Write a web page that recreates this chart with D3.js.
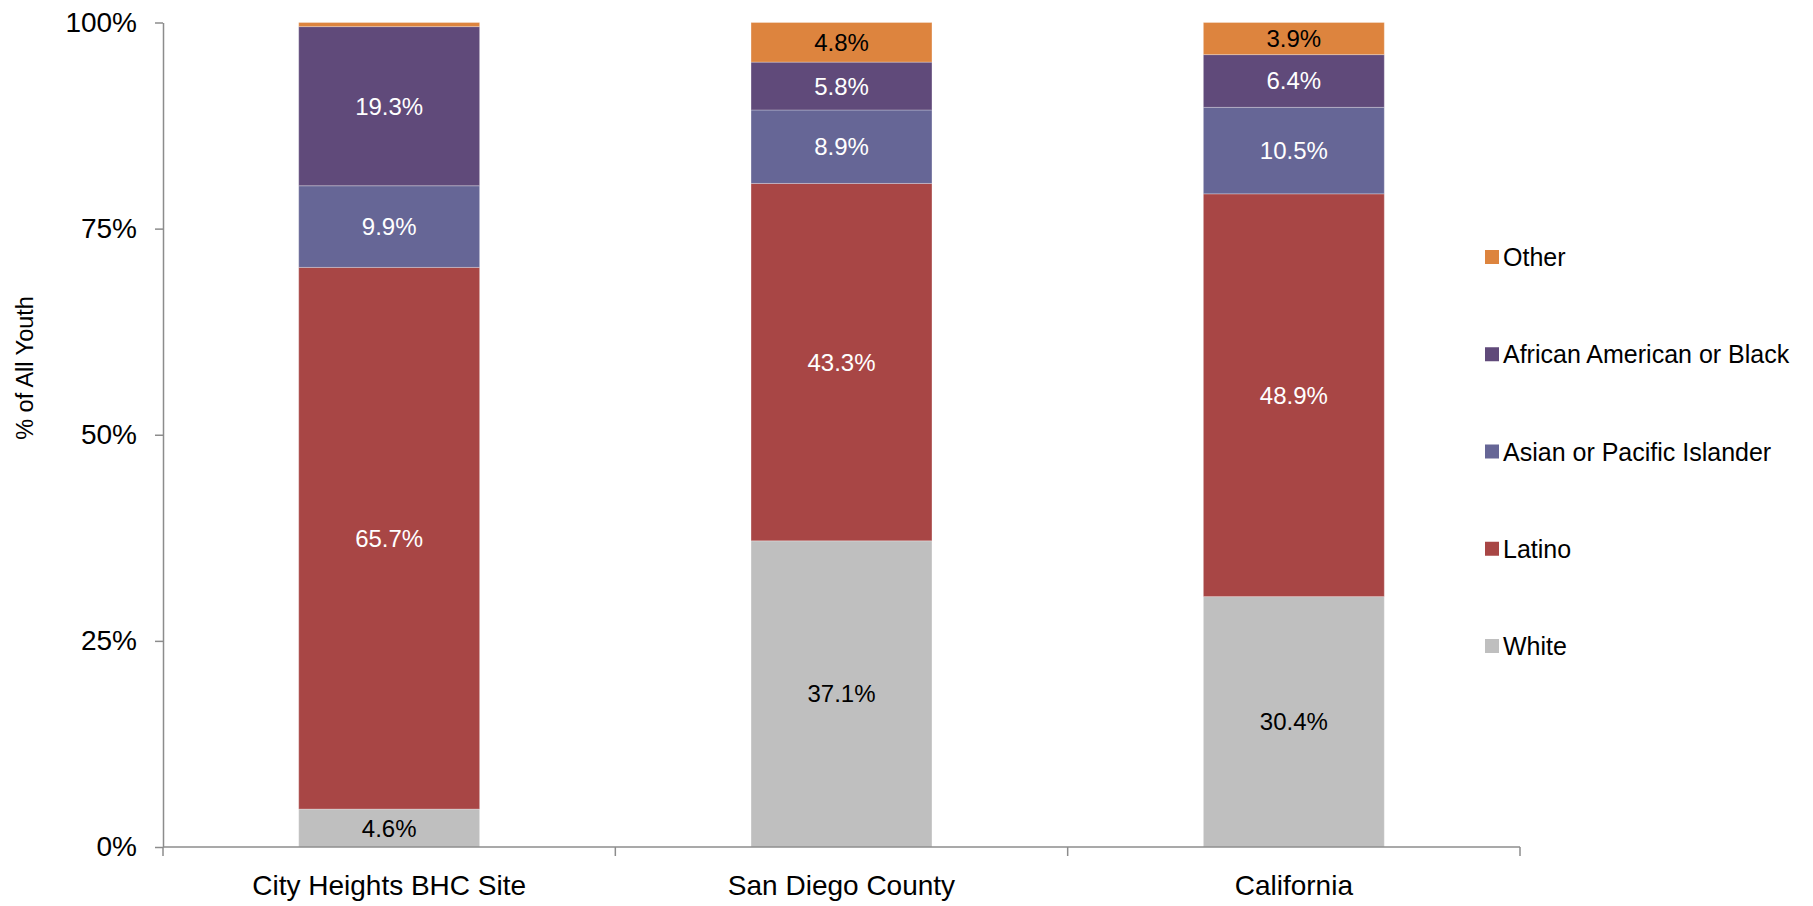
<!DOCTYPE html>
<html>
<head>
<meta charset="utf-8">
<script src="https://cdn.jsdelivr.net/npm/d3@7"></script>
<style>
  html, body { margin: 0; padding: 0; background: #ffffff; }
  svg { display: block; font-family: "Liberation Sans", Arial, sans-serif; }
</style>
</head>
<body>
<svg id="chart" width="1813" height="906"></svg>
<script>
// ---- Data ----
const categories = ["City Heights BHC Site", "San Diego County", "California"];
const seriesNames = ["White", "Latino", "Asian or Pacific Islander", "African American or Black", "Other"];
const white    = [4.6, 37.1, 30.4];
const latino   = [65.7, 43.3, 48.9];
const asian    = [9.9, 8.9, 10.5];
const african  = [19.3, 5.8, 6.4];
const other    = [0.5, 4.8, 3.9];
const yTicks   = [0, 0.25, 0.5, 0.75, 1];
const yTitle   = "% of All Youth";

const colors = {
  "White": "#BFBFBF",
  "Latino": "#A84645",
  "Asian or Pacific Islander": "#666696",
  "African American or Black": "#604A7A",
  "Other": "#DD843E"
};
const labelColors = {
  "White": "#000000",
  "Latino": "#ffffff",
  "Asian or Pacific Islander": "#ffffff",
  "African American or Black": "#ffffff",
  "Other": "#000000"
};

const seriesValues = [white, latino, asian, african, other];
const table = categories.map((c, i) => {
  const row = { category: c };
  seriesNames.forEach((s, j) => { row[s] = seriesValues[j][i]; });
  return row;
});

// ---- Layout ----
const svg = d3.select("#chart");
const x0 = 163, x1 = 1520, yBottom = 847, yTop = 22.5;

const x = d3.scaleBand().domain(categories).range([x0, x1]).paddingInner(0.6).paddingOuter(0.3);
const y = d3.scaleLinear().domain([0, 1]).range([yBottom, yTop]);

// 100% stacked
const stack = d3.stack().keys(seriesNames).offset(d3.stackOffsetExpand);
const stacked = stack(table);

// ---- Bars ----
const g = svg.append("g");
stacked.forEach(layer => {
  const key = layer.key;
  g.selectAll(null)
    .data(layer)
    .join("rect")
    .attr("x", d => x(d.data.category))
    .attr("width", x.bandwidth())
    .attr("y", d => y(d[1]))
    .attr("height", d => y(d[0]) - y(d[1]))
    .attr("fill", colors[key])
    .attr("stroke", "rgba(255,255,255,0.28)")
    .attr("stroke-width", 1);
});

// ---- Segment labels ----
stacked.forEach(layer => {
  const key = layer.key;
  g.selectAll(null)
    .data(layer.filter(d => d.data[key] >= 1))
    .join("text")
    .attr("x", d => x(d.data.category) + x.bandwidth() / 2)
    .attr("y", d => (y(d[0]) + y(d[1])) / 2)
    .attr("text-anchor", "middle")
    .attr("dominant-baseline", "central")
    .attr("font-size", 24)
    .attr("fill", labelColors[key])
    .text(d => d3.format(".1f")(d.data[key]) + "%");
});

// ---- Y axis ----
const axisColor = "#8c8c8c";
const yAxis = d3.axisLeft(y).tickValues(yTicks).tickFormat(d3.format(".0%")).tickSize(8).tickSizeOuter(0);
const gy = svg.append("g").attr("transform", `translate(${x0},0)`).call(yAxis);
gy.select(".domain").attr("stroke", axisColor).attr("stroke-width", 1.5);
gy.selectAll(".tick line").attr("stroke", axisColor).attr("stroke-width", 1.5);
gy.selectAll(".tick text").attr("font-size", 28).attr("fill", "#000").attr("x", -26)
  .attr("font-family", "Liberation Sans, Arial, sans-serif");

// ---- X axis ----
const gx = svg.append("g");
gx.append("line")
  .attr("x1", x0).attr("x2", x1)
  .attr("y1", yBottom).attr("y2", yBottom)
  .attr("stroke", axisColor).attr("stroke-width", 1.5);
const step = x.step();
const boundaries = [x(categories[0]) + x.bandwidth() / 2 - step / 2]
  .concat(categories.map(c => x(c) + x.bandwidth() / 2 + step / 2));
gx.selectAll(null).data(boundaries).join("line")
  .attr("x1", d => d).attr("x2", d => d)
  .attr("y1", yBottom).attr("y2", yBottom + 9)
  .attr("stroke", axisColor).attr("stroke-width", 1.5);
gx.selectAll(null).data(categories).join("text")
  .attr("x", d => x(d) + x.bandwidth() / 2)
  .attr("y", 895)
  .attr("text-anchor", "middle")
  .attr("font-size", 28)
  .attr("fill", "#000")
  .text(d => d);

// ---- Y title ----
svg.append("text")
  .attr("transform", `translate(33,368) rotate(-90)`)
  .attr("text-anchor", "middle")
  .attr("font-size", 23.5)
  .attr("fill", "#000")
  .text(yTitle);

// ---- Legend ----
const legendOrder = seriesNames.slice().reverse();
const ly = d3.scalePoint().domain(legendOrder).range([257, 646]);
const lg = svg.append("g");
lg.selectAll(null).data(legendOrder).join("rect")
  .attr("x", 1485).attr("y", d => ly(d) - 7)
  .attr("width", 14).attr("height", 14)
  .attr("fill", d => colors[d]);
lg.selectAll(null).data(legendOrder).join("text")
  .attr("x", 1503).attr("y", d => ly(d))
  .attr("dominant-baseline", "central")
  .attr("font-size", 25)
  .attr("fill", "#000")
  .text(d => d);
</script>
</body>
</html>
